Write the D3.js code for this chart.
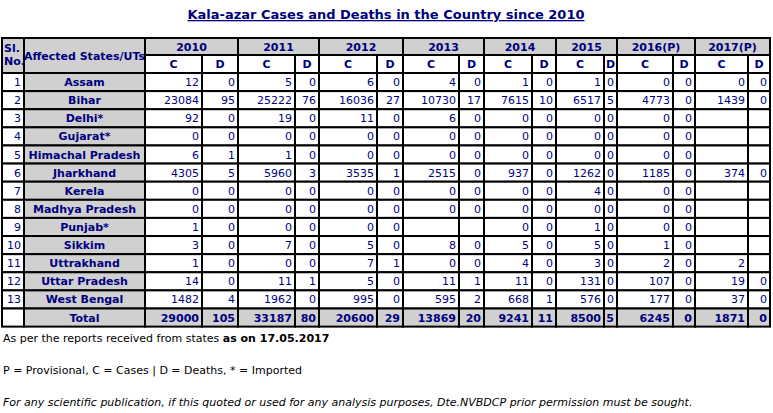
<!DOCTYPE html>
<html><head><meta charset="utf-8">
<script src="https://cdn.jsdelivr.net/npm/d3@7"></script>
<style>body{margin:0;background:#fff}text{font-family:"DejaVu Sans",Verdana,sans-serif}</style>
</head><body><svg id="c" width="773" height="413"></svg>
<script>
const years = ["2010","2011","2012","2013","2014","2015","2016(P)","2017(P)"];
const states = ["Assam","Bihar","Delhi*","Gujarat*","Himachal Pradesh","Jharkhand","Kerela","Madhya Pradesh","Punjab*","Sikkim","Uttrakhand","Uttar Pradesh","West Bengal"];
// cases[state][year], deaths[state][year]; null = blank
const cases = [
 [12,5,6,4,1,1,0,0],
 [23084,25222,16036,10730,7615,6517,4773,1439],
 [92,19,11,6,0,0,0,null],
 [0,0,0,0,0,0,0,null],
 [6,1,0,0,0,0,0,null],
 [4305,5960,3535,2515,937,1262,1185,374],
 [0,0,0,0,0,4,0,null],
 [0,0,0,0,0,0,0,null],
 [1,0,0,null,0,1,0,null],
 [3,7,5,8,5,5,1,null],
 [1,0,7,0,4,3,2,2],
 [14,11,5,11,11,131,107,19],
 [1482,1962,995,595,668,576,177,37]
];
const deaths = [
 [0,0,0,0,0,0,0,0],
 [95,76,27,17,10,5,0,0],
 [0,0,0,0,0,0,0,null],
 [0,0,0,0,0,0,0,null],
 [1,0,0,0,0,0,0,null],
 [5,3,1,0,0,0,0,0],
 [0,0,0,0,0,0,0,null],
 [0,0,0,0,0,0,0,null],
 [0,0,0,null,0,0,0,null],
 [0,0,0,0,0,0,0,null],
 [0,0,1,0,0,0,0,null],
 [0,1,0,1,0,0,0,0],
 [4,0,0,2,1,0,0,0]
];
const totalCases = [29000,33187,20600,13869,9241,8500,6245,1871];
const totalDeaths = [105,80,29,20,11,5,0,0];

const svg = d3.select("#c");
const navy = "#00007f", grey = "#d0d0d0";
// column edges
const edges = [2,24,145,202,238,295,319,377,403,459,484,532,556,604,617,673,695,748,770];
const colX = d3.scaleOrdinal().domain(d3.range(edges.length)).range(edges);
const rowY = d3.scaleLinear().domain([0,13]).range([73,308.5]);
const rh = rowY(1)-rowY(0);

svg.append("text").attr("x",386).attr("y",19).attr("text-anchor","middle")
  .attr("font-size",13).attr("font-weight","bold").attr("fill",navy)
  .attr("text-decoration","underline").text("Kala-azar Cases and Deaths in the Country since 2010");

function cell(c0,c1,y0,y1,txt,opt){
  const x0=colX(c0), x1=colX(c1);
  svg.append("rect").attr("x",x0).attr("y",y0).attr("width",x1-x0).attr("height",y1-y0)
    .attr("fill",opt.bg||"#fff").attr("stroke","#000").attr("stroke-width",2);
  if(txt===null||txt===undefined) return;
  const t=svg.append("text").attr("font-size",11).attr("fill",navy)
    .attr("font-weight",opt.bold?"bold":"normal").attr("y",(y0+y1)/2+4);
  if(opt.align==="right") t.attr("x",x1-3).attr("text-anchor","end");
  else t.attr("x",(x0+x1)/2).attr("text-anchor","middle");
  if(opt.lines){ t.attr("y",y0+14).attr("x",x0+2).attr("text-anchor","start");
    opt.lines.forEach((l,i)=>t.append("tspan").attr("x",x0+2).attr("dy",i?13:0).text(l)); }
  else t.text(txt);
}
// header
cell(0,1,38,73,"",{bg:grey,bold:true,lines:["Sl.","No."]});
cell(1,2,38,73,"Affected States/UTs",{bg:grey,bold:true});
years.forEach((y,i)=>{
  cell(2+2*i,4+2*i,38,55,y,{bg:grey,bold:true});
  cell(2+2*i,3+2*i,55,73,"C",{bg:"#fff",bold:true});
  cell(3+2*i,4+2*i,55,73,"D",{bg:"#fff",bold:true});
});
states.forEach((s,r)=>{
  const y0=rowY(r), y1=rowY(r+1);
  cell(0,1,y0,y1,String(r+1),{align:"right"});
  cell(1,2,y0,y1,s,{bg:grey,bold:true});
  years.forEach((y,i)=>{
    cell(2+2*i,3+2*i,y0,y1,cases[r][i]===null?null:String(cases[r][i]),{align:"right"});
    cell(3+2*i,4+2*i,y0,y1,deaths[r][i]===null?null:String(deaths[r][i]),{align:"right"});
  });
});
{
  const y0=rowY(13), y1=y0+rh;
  cell(0,1,y0,y1,"",{});
  cell(1,2,y0,y1,"Total",{bg:grey,bold:true});
  years.forEach((y,i)=>{
    cell(2+2*i,3+2*i,y0,y1,String(totalCases[i]),{bg:grey,bold:true,align:"right"});
    cell(3+2*i,4+2*i,y0,y1,String(totalDeaths[i]),{bg:grey,bold:true,align:"right"});
  });
}
const n1=svg.append("text").attr("x",3).attr("y",342).attr("font-size",11).attr("fill","#000");
n1.append("tspan").text("As per the reports received from states ");
n1.append("tspan").attr("font-weight","bold").text("as on 17.05.2017");
svg.append("text").attr("x",3).attr("y",374).attr("font-size",11).attr("fill","#000")
  .text("P = Provisional, C = Cases | D = Deaths, * = Imported");
svg.append("text").attr("x",3).attr("y",406).attr("font-size",11).attr("fill","#000").attr("font-style","italic")
  .text("For any scientific publication, if this quoted or used for any analysis purposes, Dte.NVBDCP prior permission must be sought.");
</script></body></html>
